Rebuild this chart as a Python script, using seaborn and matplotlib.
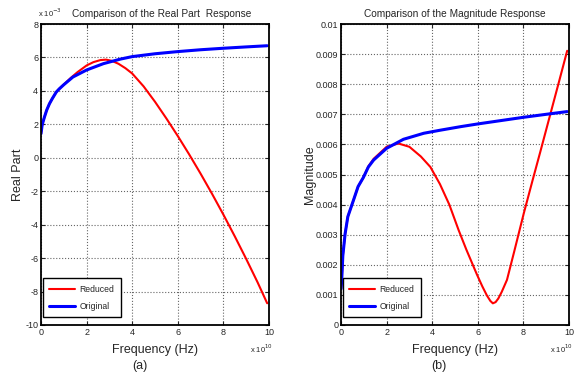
import numpy as np
import pandas as pd
import matplotlib
matplotlib.use("Agg")
import matplotlib.pyplot as plt
import seaborn as sns

# frequency in units of 1e10 Hz, real part in units of 1e-3
real_freq_orig = [0, 0.05, 0.1, 0.15, 0.25, 0.37, 0.5, 0.67, 0.8, 1.0, 1.4, 2.0, 2.74, 3.48, 4.0, 5.0,
                  6.0, 7.0, 8.0, 9.0, 9.92]
real_orig = [1.44, 1.95, 2.2, 2.43, 2.85, 3.23, 3.55, 3.93, 4.12, 4.37, 4.83, 5.25, 5.63, 5.9, 6.05, 6.22,
             6.35, 6.46, 6.55, 6.63, 6.7]

real_freq_red = [0, 0.05, 0.1, 0.15, 0.25, 0.37, 0.5, 0.67, 0.8, 1.0, 1.3, 1.6, 2.0, 2.3, 2.6, 2.85, 3.1,
                 3.4, 3.7, 4.0, 4.5, 5.0, 5.5, 6.0, 6.5, 7.0, 7.5, 8.0, 8.5, 9.0, 9.5, 9.92]
real_red = [1.44, 1.95, 2.2, 2.43, 2.85, 3.23, 3.55, 3.93, 4.12, 4.38, 4.77, 5.12, 5.52, 5.72, 5.84, 5.87,
            5.8, 5.62, 5.36, 5.04, 4.27, 3.35, 2.35, 1.3, 0.2, -0.95, -2.15, -3.4, -4.7, -6.05, -7.45, -8.7]

# magnitude in units of 1e-3
mag_freq_orig = [0, 0.01, 0.03, 0.08, 0.18, 0.3, 0.54, 0.75, 0.98, 1.2, 1.43, 2.0, 2.74, 3.63, 4.34, 5.25,
                 6.0, 7.0, 8.0, 9.0, 9.92]
mag_orig = [1.2, 1.3, 1.47, 2.3, 3.03, 3.6, 4.13, 4.6, 4.9, 5.25, 5.48, 5.87, 6.17, 6.37, 6.47, 6.59,
            6.68, 6.79, 6.9, 7.0, 7.09]

mag_freq_red = [0, 0.01, 0.03, 0.08, 0.18, 0.3, 0.54, 0.75, 0.98, 1.2, 1.43, 2.0, 2.52, 3.0, 3.5, 3.92,
                4.34, 4.75, 5.16, 5.5, 5.96, 6.2, 6.4, 6.55, 6.66, 6.78, 6.9, 7.05, 7.28, 7.6, 8.01, 8.4,
                8.74, 9.18, 9.55, 9.92]
mag_red = [1.2, 1.3, 1.47, 2.3, 3.03, 3.6, 4.13, 4.6, 4.9, 5.27, 5.52, 5.92, 6.03, 5.92, 5.6, 5.25,
           4.68, 4.0, 3.15, 2.5, 1.68, 1.28, 0.98, 0.8, 0.72, 0.76, 0.88, 1.1, 1.5, 2.45, 3.69, 4.8,
           5.75, 7.0, 8.05, 9.11]

x_ticks = [0, 2, 4, 6, 8, 10]
real_ticks = [-10, -8, -6, -4, -2, 0, 2, 4, 6, 8]
mag_ticks = [0, 0.001, 0.002, 0.003, 0.004, 0.005, 0.006, 0.007, 0.008, 0.009, 0.01]

sns.set_style("ticks")
plt.rcParams['font.family'] = ['Liberation Sans', 'DejaVu Sans']
plt.rcParams['xtick.direction'] = 'in'
plt.rcParams['ytick.direction'] = 'in'

fig = plt.figure(figsize=(5.8, 3.76), dpi=100)
ax1 = fig.add_axes([41 / 580, 1 - 325 / 376, 228 / 580, 301 / 376])
ax2 = fig.add_axes([341 / 580, 1 - 325 / 376, 228 / 580, 301 / 376])

real_red_df = pd.DataFrame({'f': real_freq_red, 'v': real_red})
real_orig_df = pd.DataFrame({'f': real_freq_orig, 'v': real_orig})
mag_red_df = pd.DataFrame({'f': mag_freq_red, 'v': np.array(mag_red) * 1e-3})
mag_orig_df = pd.DataFrame({'f': mag_freq_orig, 'v': np.array(mag_orig) * 1e-3})

for ax, red_df, orig_df in [(ax1, real_red_df, real_orig_df), (ax2, mag_red_df, mag_orig_df)]:
    sns.lineplot(data=red_df, x='f', y='v', ax=ax, color='#ff0000', linewidth=1.5, label='Reduced', sort=False)
    sns.lineplot(data=orig_df, x='f', y='v', ax=ax, color='#0000ff', linewidth=2.2, label='Original', sort=False)
    ax.set_xlim(0, 10)
    ax.set_xticks(x_ticks)
    ax.set_xticklabels([str(t) for t in x_ticks])
    ax.grid(True, linestyle=':', color='0.4', linewidth=0.8)
    ax.tick_params(labelsize=6.5, length=3, top=True, right=True, pad=2)
    for s in ax.spines.values():
        s.set_visible(True)
        s.set_color('black')
        s.set_linewidth(1.3)
    ax.set_xlabel('Frequency (Hz)', fontsize=9, labelpad=5)
    leg = ax.legend(loc='lower left', bbox_to_anchor=(0.008, 0.025), borderaxespad=0,
                    fancybox=False, framealpha=1, edgecolor='black', fontsize=6.2,
                    handlelength=3.0, handletextpad=0.5, borderpad=0.75, labelspacing=0.95)
    leg.get_frame().set_linewidth(1.0)

ax1.set_ylim(-10, 8)
ax1.set_yticks(real_ticks)
ax1.set_yticklabels([str(t) for t in real_ticks])
ax1.set_ylabel('Real Part', fontsize=9, labelpad=1)
ax1.set_title('Comparison of the Real Part  Response', fontsize=7.3, pad=5, x=0.53)

ax2.set_ylim(0, 0.01)
ax2.set_yticks(mag_ticks)
ax2.set_yticklabels([f"{t:g}" for t in mag_ticks])
ax2.set_ylabel('Magnitude', fontsize=9, labelpad=0)
ax2.set_title('Comparison of the Magnitude Response', fontsize=7.3, pad=5)

fig.text(38 / 580, 1 - 17 / 376, r'x 10$^{-3}$', fontsize=5.5)
fig.text(250 / 580, 1 - 353 / 376, r'x 10$^{10}$', fontsize=5.5)
fig.text(550 / 580, 1 - 353 / 376, r'x 10$^{10}$', fontsize=5.5)
fig.text(140 / 580, 1 - 369 / 376, '(a)', fontsize=9, ha='center')
fig.text(439 / 580, 1 - 369 / 376, '(b)', fontsize=9, ha='center')

fig.savefig('out.png', dpi=100)
